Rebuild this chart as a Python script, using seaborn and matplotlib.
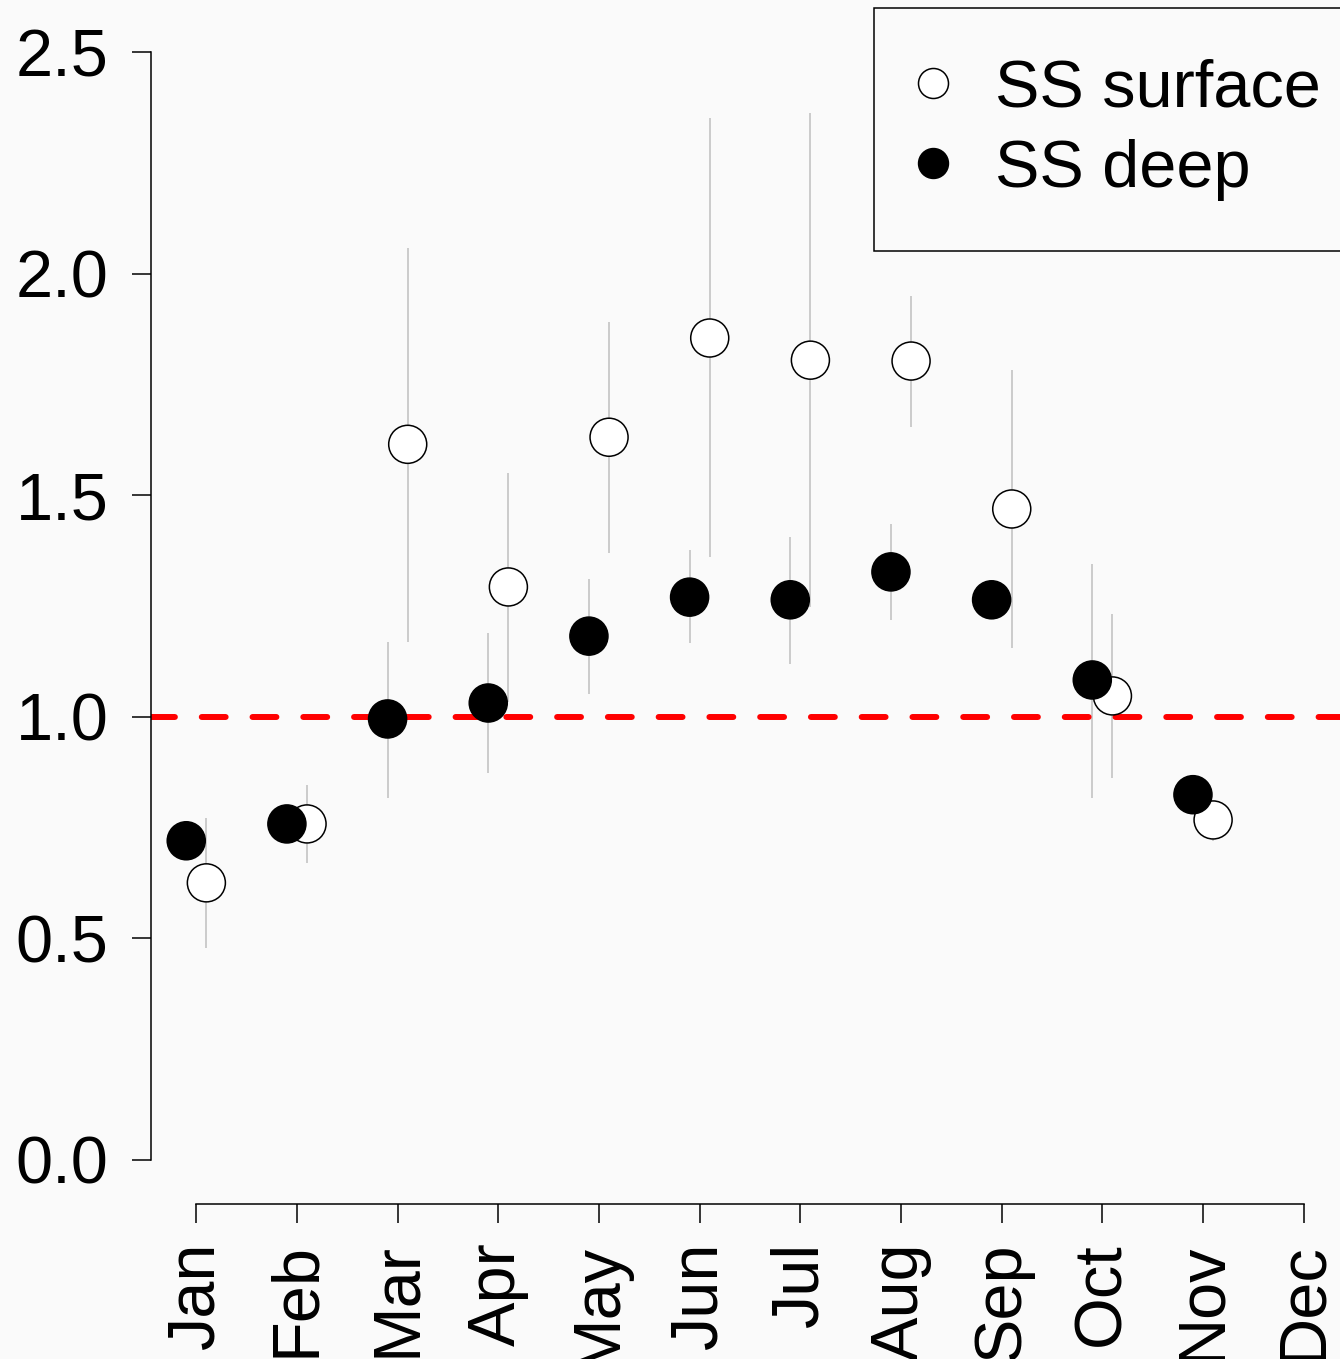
import numpy as np
import pandas as pd
import seaborn as sns
import matplotlib.pyplot as plt
from matplotlib.lines import Line2D

# --- donnees ---
months = ['Jan', 'Feb', 'Mar', 'Apr', 'May', 'Jun', 'Jul', 'Aug', 'Sep', 'Oct', 'Nov', 'Dec']
nan = np.nan

surface = [0.625, 0.758, 1.615, 1.293, 1.631, 1.855, 1.805, 1.803, 1.469, 1.047, 0.767, nan]
surface_lo = [0.478, 0.670, 1.169, 1.033, 1.370, 1.361, 1.248, 1.654, 1.155, 0.862, 0.720, nan]
surface_hi = [0.772, 0.846, 2.058, 1.550, 1.891, 2.351, 2.363, 1.949, 1.783, 1.232, 0.810, nan]

deep = [0.720, 0.758, 0.995, 1.031, 1.182, 1.270, 1.264, 1.327, 1.264, 1.083, 0.824, nan]
deep_lo = [nan, nan, 0.817, 0.873, 1.051, 1.167, 1.119, 1.218, nan, 0.817, nan, nan]
deep_hi = [nan, nan, 1.169, 1.189, 1.311, 1.376, 1.406, 1.435, nan, 1.345, nan, nan]

yticks = [0.0, 0.5, 1.0, 1.5, 2.0, 2.5]

# --- mise en forme ---
pos = np.arange(1, len(months) + 1)
df = pd.concat([
    pd.DataFrame({'x': pos + 0.1, 'val': surface, 'lo': surface_lo, 'hi': surface_hi, 'serie': 'SS surface'}),
    pd.DataFrame({'x': pos - 0.1, 'val': deep, 'lo': deep_lo, 'hi': deep_hi, 'serie': 'SS deep'}),
], ignore_index=True)

sns.set_style("white")
bg = '#fafafa'
plt.rcParams['font.family'] = ['Liberation Sans', 'DejaVu Sans']
plt.rcParams['text.color'] = 'black'

fig = plt.figure(figsize=(13.4, 13.59), dpi=100, facecolor=bg)
W, H = 1340, 1359
ax = fig.add_axes([151 / W, (H - 1204) / H, (1349 - 151) / W, 1196 / H])
ax.set_facecolor(bg)

# barres d'erreur
ax.vlines(df['x'], df['lo'], df['hi'], color='#bebebe', lw=1.1, zorder=1)

# ligne de reference
ax.axhline(1.0, color='red', lw=4.3, ls=(0, (4, 4.5)), dash_capstyle='round', zorder=2)

# points
sns.scatterplot(data=df, x='x', y='val', hue='serie',
                palette={'SS surface': 'white', 'SS deep': 'black'},
                edgecolor='black', linewidth=1.1, s=750, legend=False, ax=ax, zorder=3)

ax.set_xlim(0.55, 12.45)
ax.set_ylim(-0.1, 2.6)
ax.set_xticks(pos)
ax.set_xticklabels(months, rotation=90, fontsize=48)
ax.set_yticks(yticks)
ax.set_yticklabels([f'{v:.1f}' for v in yticks], fontsize=48)
ax.set_xlabel('')
ax.set_ylabel('')

for s in ['top', 'right']:
    ax.spines[s].set_visible(False)
ax.spines['left'].set_bounds(0, 2.5)
ax.spines['bottom'].set_bounds(1, 12)
for s in ['left', 'bottom']:
    ax.spines[s].set_linewidth(1.1)
    ax.spines[s].set_color('black')
ax.tick_params(axis='x', length=13.7, width=1.1, pad=14, colors='black', direction='out', bottom=True)
ax.tick_params(axis='y', length=13.7, width=1.1, pad=17, colors='black', direction='out', left=True)

handles = [
    Line2D([], [], ls='none', marker='o', markersize=21.6, markerfacecolor='white',
           markeredgecolor='black', markeredgewidth=1.1, label='SS surface'),
    Line2D([], [], ls='none', marker='o', markersize=21.6, markerfacecolor='black',
           markeredgecolor='black', label='SS deep'),
]
leg = ax.legend(handles=handles, loc='upper left', bbox_to_anchor=(874 / W, 1 - 8 / H),
                bbox_transform=fig.transFigure, fontsize=48, frameon=True, fancybox=False,
                borderpad=0.76, labelspacing=0.27, handlelength=0.25, handletextpad=0.8,
                borderaxespad=0, facecolor=bg, framealpha=1, labelcolor='black')
leg.get_frame().set_edgecolor('black')
leg.get_frame().set_linewidth(1.1)

fig.savefig('out.png', dpi=100, facecolor=bg)
